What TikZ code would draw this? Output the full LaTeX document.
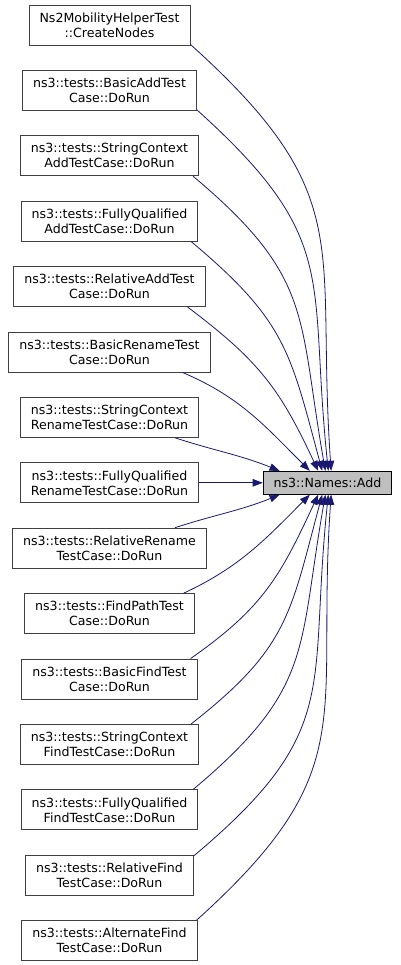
\documentclass[tikz,border=0pt]{standalone}
\usepackage{fontspec}
\setmainfont{DejaVu Sans}
\usetikzlibrary{arrows.meta}
\definecolor{edgeblue}{HTML}{191970}
\tikzstyle{caller} = [rectangle, minimum height=40pt, inner xsep=10.5pt, inner ysep=2pt, align=center, draw=black!75, fill=white, line width=0.9pt, font=\fontsize{12.6pt}{15pt}\selectfont]
\tikzstyle{target} = [rectangle, minimum height=23pt, inner xsep=10.5pt, inner ysep=2pt, draw=black, fill=black!25, line width=0.9pt, font=\fontsize{12.6pt}{15pt}\selectfont]
\tikzstyle{arrow} = [draw=edgeblue, line width=0.8pt, -{Triangle[length=10pt,width=7.5pt]}]

\begin{document}
\begin{tikzpicture}[x=1pt, y=1pt, node distance=65.4pt]
    \useasboundingbox (0,0) rectangle (400,-965);

    % Nodes
    \node (createnodes) [caller] at (109.5,-25) {Ns2MobilityHelperTest\\::CreateNodes};
    \node (basicadd) [caller, below of=createnodes] {ns3::tests::BasicAddTest\\Case::DoRun};
    \node (strctxadd) [caller, below of=basicadd] {ns3::tests::StringContext\\AddTestCase::DoRun};
    \node (fqadd) [caller, below of=strctxadd] {ns3::tests::FullyQualified\\AddTestCase::DoRun};
    \node (reladd) [caller, below of=fqadd] {ns3::tests::RelativeAddTest\\Case::DoRun};
    \node (basicrename) [caller, below of=reladd] {ns3::tests::BasicRenameTest\\Case::DoRun};
    \node (strctxrename) [caller, below of=basicrename] {ns3::tests::StringContext\\RenameTestCase::DoRun};
    \node (fqrename) [caller, below of=strctxrename] {ns3::tests::FullyQualified\\RenameTestCase::DoRun};
    \node (relrename) [caller, below of=fqrename] {ns3::tests::RelativeRename\\TestCase::DoRun};
    \node (findpath) [caller, below of=relrename] {ns3::tests::FindPathTest\\Case::DoRun};
    \node (basicfind) [caller, below of=findpath] {ns3::tests::BasicFindTest\\Case::DoRun};
    \node (strctxfind) [caller, below of=basicfind] {ns3::tests::StringContext\\FindTestCase::DoRun};
    \node (fqfind) [caller, below of=strctxfind] {ns3::tests::FullyQualified\\FindTestCase::DoRun};
    \node (relfind) [caller, below of=fqfind] {ns3::tests::RelativeFind\\TestCase::DoRun};
    \node (altfind) [caller, below of=relfind] {ns3::tests::AlternateFind\\TestCase::DoRun};
    \node (add) [target, right of=fqrename, xshift=152.6pt] {ns3::Names::Add};

    % Arrows from above
    \draw [arrow] ([yshift=1pt]createnodes.south east) to[out=-42, in=94, looseness=1.3] (add.73);
    \draw [arrow] ([yshift=1pt]basicadd.south east) to[out=-42, in=96, looseness=1.3] (add.86);
    \draw [arrow] ([xshift=-6pt]strctxadd.south east) to[out=-40, in=100, looseness=1.25] (add.100);
    \draw [arrow] ([xshift=-7pt]fqadd.south east) to[out=-40, in=105, looseness=1.2] (add.114);
    \draw [arrow] ([xshift=-18pt]reladd.south east) to[out=-37, in=115, looseness=1.1] (add.128);
    \draw [arrow] ([xshift=-28pt]basicrename.south east) to[out=-23, in=135] (add.146);
    \draw [arrow] ([xshift=-24pt]strctxrename.south east) to[out=-18, in=158] (add.166);
    \draw [arrow] (fqrename) -- (add);

    % Arrows from below
    \draw [arrow] ([xshift=-32pt]relrename.north east) to[out=18, in=-158] (add.-166);
    \draw [arrow] ([xshift=-11pt]findpath.north east) to[out=25, in=-135] (add.-146);
    \draw [arrow] ([xshift=-7pt]basicfind.north east) to[out=35, in=-115, looseness=1.1] (add.-128);
    \draw [arrow] ([xshift=-8pt]strctxfind.north east) to[out=38, in=-105, looseness=1.2] (add.-114);
    \draw [arrow] ([xshift=-5pt]fqfind.north east) to[out=40, in=-100, looseness=1.25] (add.-100);
    \draw [arrow] ([yshift=-1pt]relfind.north east) to[out=40, in=-96, looseness=1.3] (add.-86);
    \draw [arrow] ([xshift=-1pt]altfind.north east) to[out=42, in=-94, looseness=1.3] (add.-73);
\end{tikzpicture}
\end{document}
